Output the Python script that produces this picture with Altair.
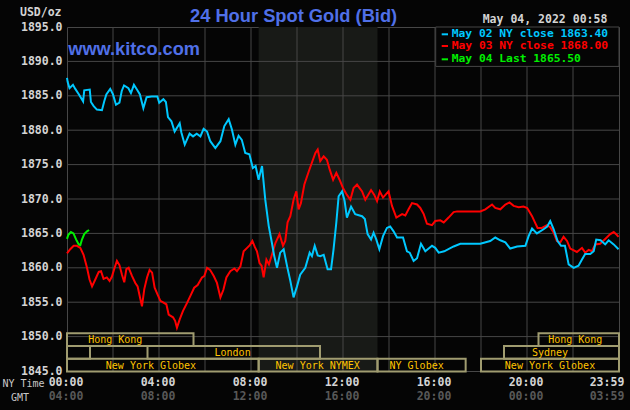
import altair as alt
import pandas as pd

# ---------------- data ----------------
cyan_hours = [0.00, 0.03, 0.11, 0.26, 0.36, 0.52, 0.70, 0.75, 0.99, 1.04, 1.16, 1.30, 1.52, 1.62, 1.71,
              1.88, 2.00, 2.13, 2.28, 2.38, 2.48, 2.67, 2.78, 2.91, 3.06, 3.17, 3.32, 3.46, 3.68, 3.93,
              4.01, 4.19, 4.30, 4.39, 4.54, 4.68, 4.90, 4.97, 5.12, 5.33, 5.48, 5.64, 5.80, 5.94, 6.09,
              6.23, 6.45, 6.67, 6.84, 7.03, 7.17, 7.32, 7.46, 7.60, 7.75, 7.93, 8.08, 8.20, 8.33, 8.48,
              8.62, 8.77, 8.91, 9.01, 9.13, 9.27, 9.42, 9.57, 9.71, 9.85, 10.00, 10.14, 10.36, 10.55,
              10.65, 10.77, 10.90, 11.01, 11.16, 11.33, 11.48, 11.59, 11.71, 11.81, 11.96, 12.07, 12.17,
              12.35, 12.53, 12.83, 12.95, 13.07, 13.22, 13.33, 13.45, 13.58, 13.74, 13.91, 14.05, 14.20,
              14.35, 14.61, 14.78, 14.90, 15.07, 15.22, 15.39, 15.58, 15.87, 16.01, 16.16, 16.40, 16.81,
              17.10, 17.97, 18.40, 18.62, 18.84, 19.06, 19.27, 19.57, 19.93, 20.07, 20.22, 20.43, 20.72,
              20.88, 21.01, 21.16, 21.33, 21.48, 21.65, 21.81, 22.03, 22.24, 22.39, 22.53, 22.75, 22.90,
              23.01, 23.20, 23.40, 23.55, 23.77, 23.98]
cyan_prices = [1887.6, 1887.0, 1886.1, 1886.6, 1886.0, 1885.2, 1884.2, 1885.8, 1885.9, 1884.1, 1883.5,
               1883.0, 1882.9, 1884.2, 1885.2, 1886.0, 1885.2, 1883.7, 1884.0, 1885.7, 1886.5, 1886.1,
               1885.4, 1886.6, 1885.8, 1885.2, 1883.2, 1884.8, 1884.9, 1884.9, 1884.0, 1884.5, 1884.1,
               1881.9, 1881.3, 1879.8, 1881.0, 1879.7, 1877.9, 1879.5, 1879.1, 1879.5, 1879.1, 1880.2,
               1879.8, 1878.4, 1877.4, 1878.4, 1880.6, 1881.6, 1880.1, 1877.9, 1879.2, 1878.6, 1876.7,
               1876.5, 1874.5, 1874.8, 1872.8, 1874.8, 1869.9, 1866.1, 1863.6, 1861.7, 1860.0, 1862.2,
               1862.7, 1860.2, 1858.1, 1855.7, 1857.3, 1859.0, 1860.0, 1862.2, 1861.7, 1863.2, 1861.8,
               1861.7, 1861.9, 1859.8, 1859.8, 1862.7, 1866.6, 1870.4, 1871.1, 1869.7, 1867.3, 1868.9,
               1867.8, 1867.5, 1867.1, 1864.9, 1864.1, 1865.1, 1864.1, 1862.7, 1864.6, 1865.8, 1866.0,
               1865.3, 1864.4, 1864.4, 1862.4, 1862.2, 1861.0, 1861.4, 1863.5, 1862.4, 1863.2, 1862.9,
               1862.2, 1862.4, 1863.1, 1863.5, 1863.5, 1863.9, 1864.4, 1864.0, 1863.7, 1862.8, 1863.1,
               1863.2, 1864.6, 1865.7, 1865.0, 1865.6, 1866.0, 1866.8, 1865.6, 1863.9, 1863.2, 1863.2,
               1860.5, 1860.0, 1860.3, 1861.2, 1862.0, 1862.0, 1862.4, 1864.1, 1864.0, 1863.4, 1864.0,
               1863.4, 1862.7]

red_hours = [0.00, 0.14, 0.29, 0.43, 0.58, 0.72, 0.87, 0.98, 1.09, 1.23, 1.38, 1.48, 1.59, 1.73, 1.85,
             1.95, 2.06, 2.17, 2.28, 2.39, 2.49, 2.58, 2.68, 2.83, 2.97, 3.07, 3.16, 3.26, 3.36, 3.48,
             3.59, 3.70, 3.81, 3.94, 4.06, 4.32, 4.42, 4.61, 4.70, 4.78, 4.90, 5.04, 5.22, 5.39, 5.53,
             5.68, 5.87, 5.97, 6.09, 6.22, 6.38, 6.52, 6.67, 6.80, 6.93, 7.10, 7.28, 7.39, 7.54, 7.68,
             7.83, 7.95, 8.06, 8.17, 8.26, 8.37, 8.46, 8.55, 8.67, 8.78, 8.91, 9.06, 9.24, 9.39, 9.49,
             9.59, 9.71, 9.85, 9.97, 10.07, 10.17, 10.32, 10.51, 10.65, 10.80, 10.90, 11.01, 11.16,
             11.30, 11.42, 11.57, 11.71, 11.85, 12.00, 12.17, 12.32, 12.46, 12.61, 12.83, 12.97, 13.22,
             13.36, 13.48, 13.60, 13.74, 13.98, 14.13, 14.32, 14.57, 14.71, 14.85, 15.00, 15.22, 15.36,
             15.51, 15.65, 15.87, 16.01, 16.23, 16.38, 16.59, 16.81, 16.96, 17.97, 18.19, 18.48, 18.62,
             18.84, 19.06, 19.24, 19.42, 19.64, 19.85, 20.01, 20.22, 20.36, 20.46, 20.65, 20.87, 21.01,
             21.16, 21.30, 21.45, 21.59, 21.74, 21.88, 22.17, 22.39, 22.53, 22.68, 22.82, 22.97, 23.18,
             23.40, 23.62, 23.77, 23.90, 23.98]
red_prices = [1862.1, 1862.7, 1863.2, 1863.2, 1862.9, 1861.9, 1860.0, 1858.3, 1857.3, 1858.3, 1859.4,
              1859.5, 1858.4, 1858.6, 1858.1, 1858.7, 1859.9, 1861.0, 1860.4, 1859.0, 1857.9, 1859.8,
              1860.0, 1858.8, 1857.8, 1857.3, 1855.9, 1854.4, 1856.9, 1858.6, 1859.7, 1859.3, 1857.1,
              1856.1, 1855.2, 1854.7, 1853.2, 1852.8, 1852.3, 1851.3, 1852.5, 1853.7, 1854.9, 1856.1,
              1857.1, 1857.5, 1858.6, 1858.8, 1860.0, 1859.7, 1858.8, 1857.8, 1855.7, 1856.8, 1858.6,
              1859.5, 1859.9, 1859.5, 1860.2, 1862.4, 1862.9, 1863.3, 1863.9, 1863.0, 1862.4, 1860.7,
              1860.3, 1858.6, 1861.2, 1860.5, 1861.9, 1863.6, 1864.9, 1863.2, 1863.9, 1866.6, 1867.5,
              1869.9, 1871.1, 1868.5, 1869.4, 1872.1, 1874.0, 1875.3, 1876.7, 1877.2, 1875.5, 1876.2,
              1875.7, 1874.3, 1872.8, 1873.8, 1872.8, 1871.6, 1870.6, 1869.9, 1871.6, 1872.1, 1871.1,
              1869.9, 1871.3, 1870.6, 1869.7, 1871.1, 1870.2, 1871.1, 1869.0, 1867.3, 1867.8, 1867.6,
              1868.5, 1869.4, 1869.2, 1868.7, 1867.8, 1866.4, 1866.2, 1866.8, 1866.9, 1866.6, 1867.3,
              1868.1, 1868.2, 1868.2, 1868.5, 1869.2, 1868.7, 1868.5, 1869.2, 1869.5, 1869.0, 1868.8,
              1868.9, 1868.7, 1867.5, 1866.5, 1865.8, 1865.8, 1866.2, 1865.9, 1865.1, 1863.9, 1863.7,
              1864.5, 1863.9, 1862.8, 1862.3, 1862.9, 1862.2, 1862.6, 1862.4, 1863.4, 1863.5, 1864.2,
              1864.9, 1865.2, 1864.8, 1864.5]

green_hours = [0.00, 0.06, 0.17, 0.28, 0.40, 0.51, 0.58, 0.65, 0.75, 0.87, 0.96]
green_prices = [1864.2, 1864.8, 1865.2, 1865.0, 1864.1, 1863.4, 1863.3, 1864.1, 1864.9, 1865.3, 1865.5]

series_names = ["May 02", "May 03", "May 04"]
legend_labels = ["May 02 NY close 1863.40", "May 03 NY close 1868.00", "May 04 Last 1865.50"]

y_ticks = [1845, 1850, 1855, 1860, 1865, 1870, 1875, 1880, 1885, 1890, 1895]
grid_hours = [2, 4, 6, 8, 10, 12, 14, 16, 18, 20, 22]
grid_prices = [1850, 1855, 1860, 1865, 1870, 1875, 1880, 1885, 1890]
label_hours = [0, 4, 8, 12, 16, 20, 24]
ny_labels = ["00:00", "04:00", "08:00", "12:00", "16:00", "20:00", "23:59"]
gmt_labels = ["04:00", "08:00", "12:00", "16:00", "20:00", "00:00", "03:59"]

nymex_start, nymex_end = 8.333, 13.5

session_names = ["Hong Kong", "", "London", "New York Globex", "New York NYMEX", "NY Globex",
                 "New York Globex", "Sydney", "Hong Kong"]
session_start = [0, 0, 3.5, 0, 8.333, 13.5, 18, 19, 20.5]
session_end = [5.5, 1, 11, 8.333, 13.5, 17.333, 24, 24, 24]
session_row = [0, 1, 1, 2, 2, 2, 2, 1, 0]
session_label_h = [2.1, 0.5, 7.2, 3.65, 10.9, 15.2, 21.0, 21.0, 22.1]

title_text = "24 Hour Spot Gold (Bid)"
site_text = "www.kitco.com"
date_text = "May 04, 2022 00:58"
unit_text = "USD/oz"

# ---------------- style ----------------
W, H = 552, 344
BG = "#050505"
GRID = "#474747"
SHADE = "#181a17"
BOX = "#a09c70"
GOLD = "#ffc400"
BLUE = "#5070e8"
LABEL = "#d4d4d4"
DIM = "#585858"
MONO = "DejaVu Sans Mono"
COLORS = ["#00c8ff", "#ff0000", "#00f000"]
ROW_TOPS = [306.3, 319.0, 331.7]
ROW_H = 12.7

xs = alt.Scale(domain=[0, 24], nice=False, zero=False)
ys = alt.Scale(domain=[1845, 1895], nice=False, zero=False)
cscale = alt.Scale(domain=series_names, range=COLORS)

yaxis = alt.Axis(values=y_ticks, format=".1f", labelFont=MONO, labelFontWeight="bold", labelFontSize=11.5,
                 labelColor=LABEL, ticks=False, domain=False, grid=False, labelPadding=5, title=None,
                 labelFlush=False, labelOverlap=False)

# shaded NYMEX period
shade = alt.Chart(pd.DataFrame({"s": [nymex_start], "e": [nymex_end]})).mark_rect(color=SHADE).encode(
    x=alt.X("s:Q", scale=xs, axis=None), x2="e:Q", y=alt.value(0), y2=alt.value(H))

vgrid = alt.Chart(pd.DataFrame({"h": grid_hours})).mark_rule(color=GRID, strokeWidth=1).encode(
    x=alt.X("h:Q", scale=xs, axis=None))

hgrid = alt.Chart(pd.DataFrame({"p": grid_prices})).mark_rule(color=GRID, strokeWidth=1).encode(
    y=alt.Y("p:Q", scale=ys, axis=yaxis))

# sessions
sess = pd.DataFrame({"name": session_names, "start": session_start, "end": session_end,
                     "row": session_row, "lh": session_label_h})
sess["top"] = [ROW_TOPS[r] for r in sess["row"]]
sess["bot"] = sess["top"] + ROW_H
sess["mid"] = sess["top"] + ROW_H / 2 + 0.5
sess_boxes = alt.Chart(sess).mark_rect(filled=False, stroke=BOX, strokeWidth=2).encode(
    x=alt.X("start:Q", scale=xs, axis=None), x2="end:Q",
    y=alt.Y("top:Q", scale=None), y2="bot:Q")
sess_text = alt.Chart(sess).mark_text(font=MONO, fontSize=10, color=GOLD, baseline="middle", align="center").encode(
    x=alt.X("lh:Q", scale=xs, axis=None), y=alt.Y("mid:Q", scale=None), text="name:N")

# price lines
def line_layer(hours, prices, name):
    df = pd.DataFrame({"h": hours, "p": prices, "series": name})
    return alt.Chart(df).mark_line(strokeWidth=2, interpolate="linear").encode(
        x=alt.X("h:Q", scale=xs, axis=None),
        y=alt.Y("p:Q", scale=ys, axis=yaxis),
        color=alt.Color("series:N", scale=cscale, legend=None),
        order="h:Q")

red_line = line_layer(red_hours, red_prices, series_names[1])
cyan_line = line_layer(cyan_hours, cyan_prices, series_names[0])
green_line = line_layer(green_hours, green_prices, series_names[2])

# legend box
leg_box = alt.Chart(pd.DataFrame({"a": [0]})).mark_rect(fill=BG, stroke=GRID, strokeWidth=1).encode(
    x=alt.value(368.7), x2=alt.value(W), y=alt.value(0), y2=alt.value(39.4))
leg = pd.DataFrame({"series": series_names, "label": legend_labels, "ly": [7.3, 19.0, 32.3]})
leg_dash = alt.Chart(leg).mark_rule(strokeWidth=2).encode(
    x=alt.value(374.7), x2=alt.value(381), y=alt.Y("ly:Q", scale=None),
    color=alt.Color("series:N", scale=cscale, legend=None))
leg_text = alt.Chart(leg).mark_text(font=MONO, fontWeight="bold", fontSize=11.3, align="left",
                                    baseline="middle").encode(
    x=alt.value(384.7), y=alt.Y("ly:Q", scale=None), text="label:N",
    color=alt.Color("series:N", scale=cscale, legend=None))

# header texts
def txt(s, x, y, **kw):
    return alt.Chart(pd.DataFrame({"t": [s]})).mark_text(**kw).encode(
        x=alt.value(x), y=alt.value(y), text="t:N")

title = txt(title_text, 123, -5.3, font="Liberation Sans", fontWeight="bold", fontSize=18.3,
            color=BLUE, align="left", baseline="alphabetic")
site = txt(site_text, 1.3, 28, font="Liberation Sans", fontWeight="bold", fontSize=18.2,
           color=BLUE, align="left", baseline="alphabetic")
date = txt(date_text, 415.7, -7, font=MONO, fontWeight="bold", fontSize=11.5, color=LABEL,
           align="left", baseline="middle")
unit = txt(unit_text, -5.5, -14, font=MONO, fontWeight="bold", fontSize=11.5, color=LABEL,
           align="right", baseline="middle")
ny_title = txt("NY Time", -64.5, 356.5, font=MONO, fontSize=10, color="#c8c8c8",
               align="left", baseline="middle")
gmt_title = txt("GMT", -56, 370.5, font=MONO, fontSize=10, color="#c8c8c8",
                align="left", baseline="middle")

# x tick labels
xl = pd.DataFrame({"h": label_hours, "ny": ny_labels, "gmt": gmt_labels})
def xlabels(field, y, color, last):
    ch = alt.Chart(xl)
    if last:
        ch = ch.transform_filter(alt.datum.h >= 24)
    else:
        ch = ch.transform_filter(alt.datum.h < 24)
    return ch.mark_text(font=MONO, fontWeight="bold", fontSize=11.5, color=color, baseline="middle",
                        align="center", dx=(-12 if last else -1)).encode(
        x=alt.X("h:Q", scale=xs, axis=None), y=alt.value(y), text=f"{field}:N")

chart = alt.layer(
    shade, vgrid, hgrid, sess_boxes, red_line, cyan_line, green_line, sess_text,
    leg_box, leg_dash, leg_text, title, site, date, unit, ny_title, gmt_title,
    xlabels("ny", 356.3, LABEL, False), xlabels("ny", 356.3, LABEL, True),
    xlabels("gmt", 370.3, DIM, False), xlabels("gmt", 370.3, DIM, True),
).properties(
    width=W, height=H, background=BG,
    autosize=alt.AutoSizeParams(type="none"),
    padding={"left": 67, "top": 27, "right": 11, "bottom": 39},
).configure_view(stroke=GRID, strokeWidth=1, fill=BG)

chart.save("out.html", embed_options={"renderer": "svg", "actions": False})
